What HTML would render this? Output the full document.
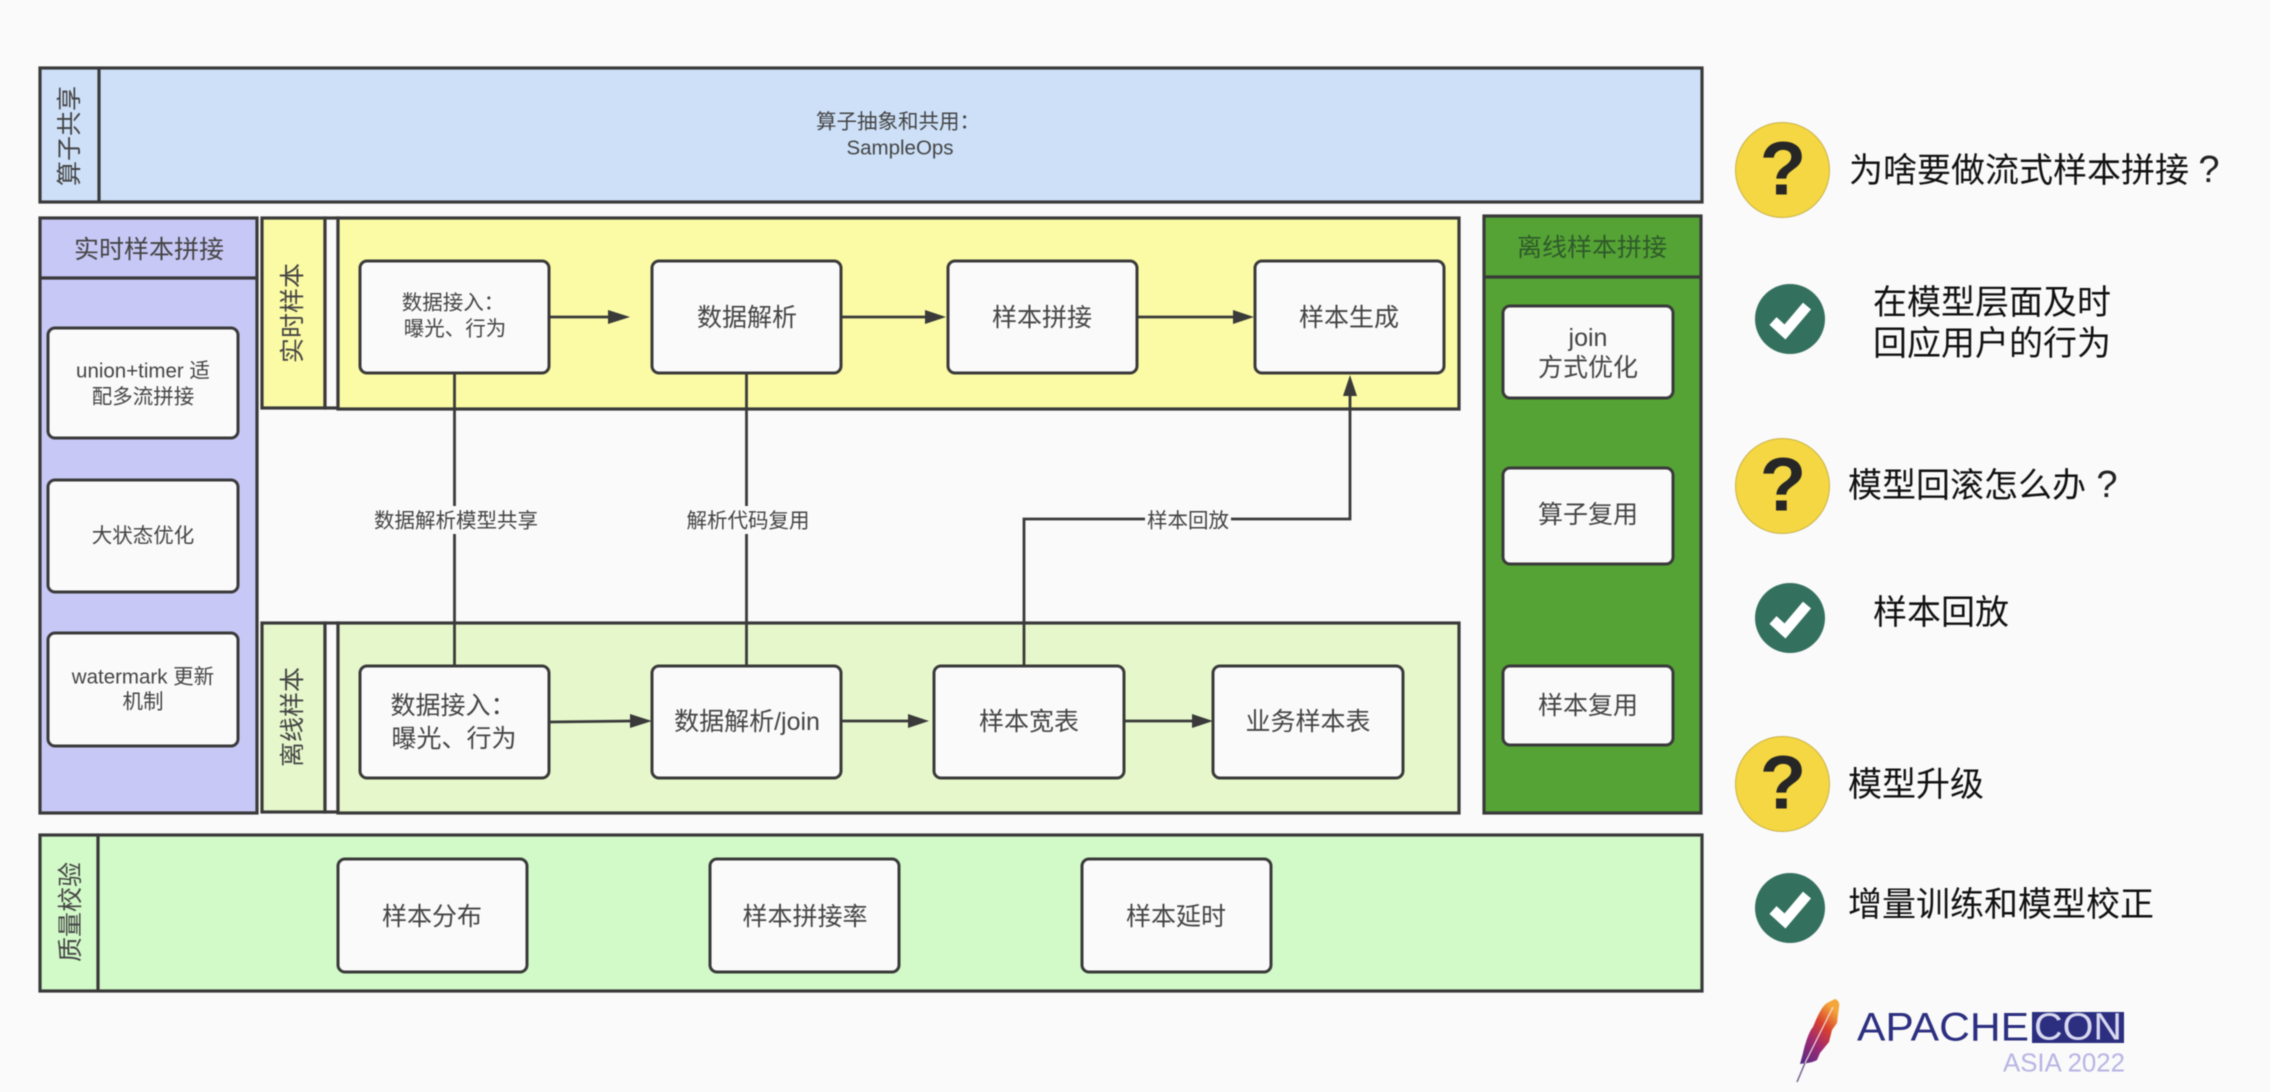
<!DOCTYPE html>
<html lang="zh">
<head>
<meta charset="utf-8">
<title>样本拼接架构</title>
<style>
html,body{margin:0;padding:0;background:#fafafa;width:2270px;height:1092px;overflow:hidden}
svg{display:block;filter:blur(0.45px)}
text{font-family:"Liberation Sans","Noto Sans CJK SC",sans-serif;fill:#444;text-anchor:middle;dominant-baseline:central}
.b{fill:none;stroke:#3a3a3a;stroke-width:3.2}
.n{fill:#fafafa;stroke:#3a3a3a;stroke-width:3}
.l{fill:none;stroke:#3a3a3a;stroke-width:2.8}
.h{fill:#3a3a3a;stroke:none}
.s20{font-size:20.5px}.s25{font-size:25px}
.r{font-size:34px;fill:#111;text-anchor:start}
.qm{font-size:38px;fill:#222}
.q{font-size:76px;font-weight:bold;fill:#262626}
.c{fill:none;stroke:#fff;stroke-width:10.5}
</style>
</head>
<body>
<svg width="2270" height="1092" viewBox="0 0 2270 1092" xmlns="http://www.w3.org/2000/svg">
<defs>
<linearGradient id="f" x1="0" y1="1" x2="0.6" y2="0">
<stop offset="0" stop-color="#4f2a86"/><stop offset="0.4" stop-color="#9e2a72"/><stop offset="0.7" stop-color="#d8402f"/><stop offset="1" stop-color="#f4a63a"/>
</linearGradient>
</defs>

<!-- top band -->
<rect x="40" y="68" width="1662" height="134" class="b" style="fill:#cde0f8"/>
<line x1="99" y1="68" x2="99" y2="202" class="b"/>
<text class="s25" transform="translate(70 136) rotate(-90)">算子共享</text>
<text class="s20" x="898" y="122">算子抽象和共用：</text>
<text class="s20" x="900" y="148">SampleOps</text>

<!-- purple -->
<rect x="40" y="218" width="217" height="595" class="b" style="fill:#c8c8f6"/>
<line x1="40" y1="278" x2="257" y2="278" class="b"/>
<text class="s25" x="149" y="250">实时样本拼接</text>
<rect x="48" y="328" width="190" height="110" rx="7" class="n"/>
<text class="s20" x="143" y="371">union+timer 适</text>
<text class="s20" x="143" y="397">配多流拼接</text>
<rect x="48" y="480" width="190" height="112" rx="7" class="n"/>
<text class="s20" x="143" y="536">大状态优化</text>
<rect x="48" y="633" width="190" height="113" rx="7" class="n"/>
<text class="s20" x="143" y="677">watermark 更新</text>
<text class="s20" x="143" y="702">机制</text>

<!-- yellow lane -->
<rect x="262" y="218" width="63" height="190" class="b" style="fill:#fbfaa5"/>
<rect x="325" y="218" width="13" height="190" class="b" style="fill:#fafafa"/>
<rect x="338" y="218" width="1121" height="191" class="b" style="fill:#fbfaa5"/>
<text class="s25" transform="translate(293 313) rotate(-90)">实时样本</text>

<!-- offline lane -->
<rect x="262" y="623" width="63" height="189" class="b" style="fill:#e6f8cb"/>
<rect x="325" y="623" width="13" height="189" class="b" style="fill:#fafafa"/>
<rect x="338" y="623" width="1121" height="190" class="b" style="fill:#e6f8cb"/>
<text class="s25" transform="translate(293 717) rotate(-90)">离线样本</text>

<!-- connectors -->
<line x1="454.5" y1="373" x2="454.5" y2="666" class="l"/>
<line x1="746.5" y1="373" x2="746.5" y2="666" class="l"/>
<polyline points="1024,666 1024,519 1350,519 1350,392" class="l"/>
<polygon points="1350,375 1343,396 1357,396" class="h"/>

<line x1="549" y1="317" x2="610" y2="317" class="l"/>
<polygon points="630,317 608,310 608,324" class="h"/>
<line x1="841" y1="317" x2="927" y2="317" class="l"/>
<polygon points="946,317 925,310 925,324" class="h"/>
<line x1="1137" y1="317" x2="1235" y2="317" class="l"/>
<polygon points="1254,317 1233,310 1233,324" class="h"/>
<line x1="549" y1="722" x2="632" y2="721" class="l"/>
<polygon points="652,721 630,714 630,728" class="h"/>
<line x1="841" y1="721" x2="910" y2="721" class="l"/>
<polygon points="929,721 908,714 908,728" class="h"/>
<line x1="1120" y1="721" x2="1195" y2="721" class="l"/>
<polygon points="1213,721 1192,714 1192,728" class="h"/>

<rect x="370" y="506" width="170" height="28" fill="#fafafa"/>
<text class="s20" x="456" y="521">数据解析模型共享</text>
<rect x="684" y="506" width="126" height="28" fill="#fafafa"/>
<text class="s20" x="748" y="521">解析代码复用</text>
<rect x="1145" y="506" width="86" height="28" fill="#fafafa"/>
<text class="s20" x="1188" y="521">样本回放</text>

<!-- row 1 nodes -->
<rect x="360" y="261" width="189" height="112" rx="7" class="n"/>
<text class="s20" x="453" y="303">数据接入：</text>
<text class="s20" x="455" y="329">曝光、行为</text>
<rect x="652" y="261" width="189" height="112" rx="7" class="n"/>
<text class="s25" x="747" y="318">数据解析</text>
<rect x="948" y="261" width="189" height="112" rx="7" class="n"/>
<text class="s25" x="1042" y="318">样本拼接</text>
<rect x="1255" y="261" width="189" height="112" rx="7" class="n"/>
<text class="s25" x="1349" y="318">样本生成</text>

<!-- row 2 nodes -->
<rect x="360" y="666" width="189" height="112" rx="7" class="n"/>
<text class="s25" x="453" y="706">数据接入：</text>
<text class="s25" x="454" y="739">曝光、行为</text>
<rect x="652" y="666" width="189" height="112" rx="7" class="n"/>
<text class="s25" x="747" y="722">数据解析/join</text>
<rect x="934" y="666" width="190" height="112" rx="7" class="n"/>
<text class="s25" x="1029" y="722">样本宽表</text>
<rect x="1213" y="666" width="190" height="112" rx="7" class="n"/>
<text class="s25" x="1308" y="722">业务样本表</text>

<!-- dark green -->
<rect x="1484" y="216" width="217" height="597" class="b" style="fill:#55a335"/>
<line x1="1484" y1="277" x2="1701" y2="277" class="b"/>
<text class="s25" x="1592" y="248" style="fill:#2f5a2a">离线样本拼接</text>
<rect x="1503" y="306" width="170" height="92" rx="7" class="n"/>
<text class="s25" x="1588" y="338">join</text>
<text class="s25" x="1588" y="368">方式优化</text>
<rect x="1503" y="468" width="170" height="96" rx="7" class="n"/>
<text class="s25" x="1588" y="515">算子复用</text>
<rect x="1503" y="666" width="170" height="79" rx="7" class="n"/>
<text class="s25" x="1588" y="706">样本复用</text>

<!-- quality -->
<rect x="40" y="835" width="1662" height="156" class="b" style="fill:#d2f9c8"/>
<line x1="98" y1="835" x2="98" y2="991" class="b"/>
<text class="s25" transform="translate(71 912) rotate(-90)">质量校验</text>
<rect x="338" y="859" width="189" height="113" rx="7" class="n"/>
<text class="s25" x="432" y="917">样本分布</text>
<rect x="710" y="859" width="189" height="113" rx="7" class="n"/>
<text class="s25" x="805" y="917">样本拼接率</text>
<rect x="1082" y="859" width="189" height="113" rx="7" class="n"/>
<text class="s25" x="1176" y="917">样本延时</text>

<!-- right column -->
<ellipse cx="1782.5" cy="170" rx="47" ry="47.5" fill="#f4d742" stroke="#c9b24a"/>
<text class="q" x="1783" y="169">?</text>
<text class="r" x="1849" y="171">为啥要做流式样本拼接</text>
<text class="qm" x="2209" y="170">?</text>

<circle cx="1790" cy="319" r="35" fill="#34705e"/>
<polyline class="c" points="1773,321 1785,332 1807,306"/>
<text class="r" x="1873" y="303">在模型层面及时</text>
<text class="r" x="1873" y="344">回应用户的行为</text>

<ellipse cx="1782.5" cy="486" rx="47" ry="47.5" fill="#f4d742" stroke="#c9b24a"/>
<text class="q" x="1783" y="485">?</text>
<text class="r" x="1848" y="486">模型回滚怎么办</text>
<text class="qm" x="2107" y="485">?</text>

<circle cx="1790" cy="618" r="35" fill="#34705e"/>
<polyline class="c" points="1773,620 1785,631 1807,605"/>
<text class="r" x="1873" y="613">样本回放</text>

<ellipse cx="1782.5" cy="784" rx="47" ry="47.5" fill="#f4d742" stroke="#c9b24a"/>
<text class="q" x="1783" y="783">?</text>
<text class="r" x="1848" y="785">模型升级</text>

<circle cx="1790" cy="908" r="35" fill="#34705e"/>
<polyline class="c" points="1773,910 1785,921 1807,895"/>
<text class="r" x="1848" y="905">增量训练和模型校正</text>

<!-- logo -->
<path d="M1835,999 C1838,1000 1840,1003 1839,1007 L1837,1023 L1832,1030 L1829,1042 L1820,1053 L1817,1060 C1812,1063 1806,1063 1800,1064 L1803,1053 C1806,1040 1810,1030 1813,1027 C1817,1017 1822,1006 1827,1003 Z" fill="url(#f)"/>
<line x1="1833" y1="1007" x2="1805" y2="1063" stroke="#f1e0e0" stroke-width="1.2"/>
<line x1="1805" y1="1063" x2="1797" y2="1082" stroke="#7d6a94" stroke-width="1.6"/>
<text x="1943" y="1027.5" style="font-size:40px;fill:#2c2f80" textLength="172" lengthAdjust="spacingAndGlyphs">APACHE</text>
<rect x="2032" y="1012" width="92" height="31" fill="#2c2f80"/>
<text x="2078" y="1027.5" style="font-size:38px;fill:#d8d8f0" textLength="88" lengthAdjust="spacingAndGlyphs">CON</text>
<text x="2064" y="1062.5" style="font-size:26px;fill:#b8b4e4" textLength="122" lengthAdjust="spacingAndGlyphs">ASIA 2022</text>
</svg>
</body>
</html>
